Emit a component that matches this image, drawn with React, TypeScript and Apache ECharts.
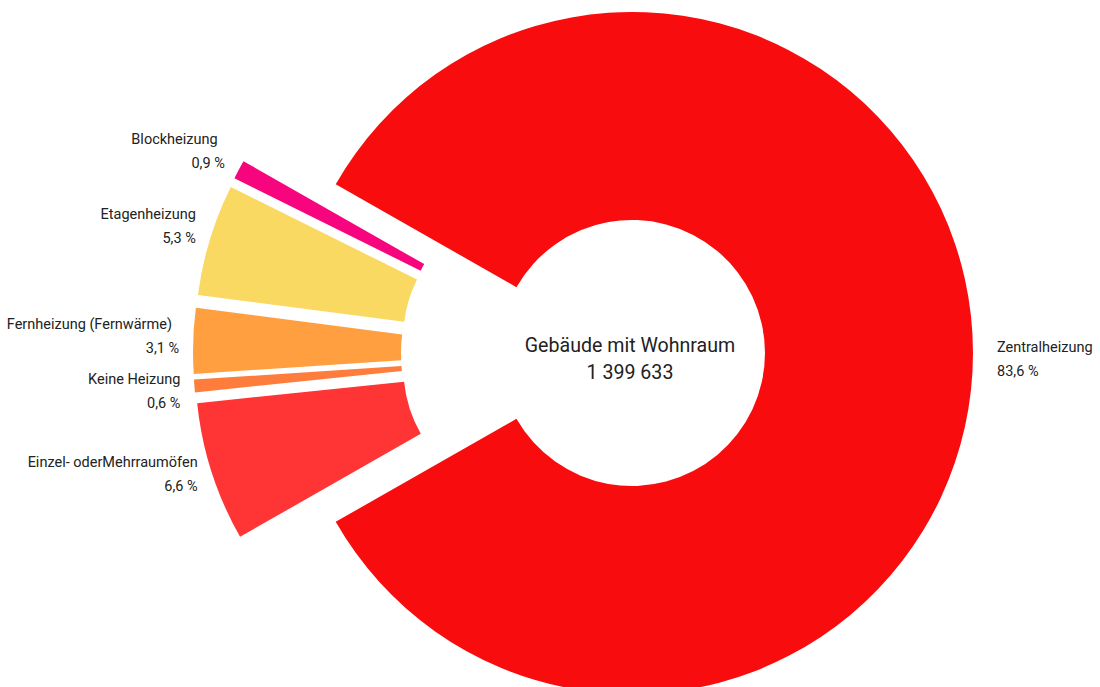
import React, { useEffect, useRef } from 'react';
import * as echarts from 'echarts';

const categories = [
  'Zentralheizung',
  'Einzel- oderMehrraumöfen',
  'Keine Heizung',
  'Fernheizung (Fernwärme)  ',
  'Etagenheizung',
  'Blockheizung  ',
];
const shares = [83.6, 6.6, 0.6, 3.1, 5.3, 0.9];
const colors = ['#f90c0e', '#ff3434', '#ff7d3c', '#ff9f40', '#f9d962', '#f7057f'];
const centerTitle = 'Gebäude mit Wohnraum';
const centerTotal = '1 399 633';

const FONT = "Roboto, 'Liberation Sans', sans-serif";
// vertical nudges of the outside labels (style only), by data index
const labelNudge = [7, 2, 5, -4, -13, -18];

export default function App() {
  const ref = useRef<HTMLDivElement>(null);
  useEffect(() => {
    if (!ref.current) return;
    const chart = echarts.init(ref.current, null, { renderer: 'svg' });
    const data = categories.map((name, i) => ({
      name,
      value: shares[i],
      selected: true,
      itemStyle: { color: colors[i] },
      labelLine: i === 0 ? { show: false, length: 0, length2: 19 } : { show: false, length: 0, length2: 9 },
    }));
    chart.setOption({
      animation: false,
      textStyle: { fontFamily: FONT },
      graphic: [
        {
          type: 'text',
          x: 630,
          y: 359,
          style: {
            text: centerTitle + '\n' + centerTotal,
            fontSize: 19.6,
            lineHeight: 27,
            fontFamily: FONT,
            fill: '#222',
            align: 'center',
            verticalAlign: 'middle',
          },
        },
      ],
      series: [
        {
          type: 'pie',
          center: [583, 353],
          radius: [133, 341],
          startAngle: 150.33,
          clockwise: true,
          selectedMode: 'multiple',
          selectedOffset: 49,
          avoidLabelOverlap: false,
          emphasis: { disabled: true },
          label: {
            show: true,
            position: 'outside',
            distanceToLabelLine: 5,
            fontSize: 14.5,
            lineHeight: 24,
            color: '#222',
            fontFamily: FONT,
            formatter: (p: any) => p.name + '\n' + String(p.value).replace('.', ',') + ' %',
          },
          labelLine: { show: false, length: 0, length2: 9 },
          labelLayout: (p: any) => ({ dy: labelNudge[p.dataIndex] || 0 }),
          data,
        },
      ],
    });
    return () => chart.dispose();
  }, []);
  return (
    <div
      ref={ref}
      style={{ position: 'fixed', left: 0, top: 0, width: 1100, height: 687, background: '#fff' }}
    />
  );
}
